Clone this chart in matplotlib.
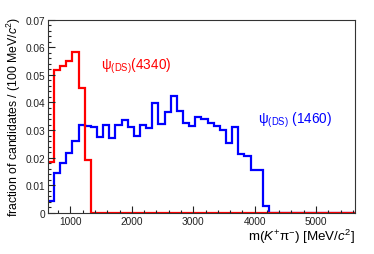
#!/usr/bin/env python3
"""K+pi- mass spectra for the two psi(DS) hypotheses."""

import matplotlib
matplotlib.use("Agg")
import matplotlib.pyplot as plt
import numpy as np
from matplotlib.ticker import MultipleLocator

plt.rcParams["font.family"] = ["Liberation Sans", "DejaVu Sans"]
plt.rcParams["mathtext.fontset"] = "custom"
plt.rcParams["mathtext.rm"] = "Liberation Sans"
plt.rcParams["mathtext.it"] = "Liberation Sans:italic"

# binning: 100 MeV bins from the K pi threshold
M_LOW = 633
BIN_W = 100
N_BINS = 50

# psi(DS)(1460), blue
frac_1460 = [
    0.0045, 0.0145, 0.0180, 0.0217, 0.0260, 0.0320, 0.0315, 0.0310, 0.0275, 0.0320,
    0.0270, 0.0320, 0.0337, 0.0310, 0.0277, 0.0320, 0.0306, 0.0399, 0.0322, 0.0366,
    0.0424, 0.0368, 0.0327, 0.0316, 0.0346, 0.0341, 0.0327, 0.0316, 0.0301, 0.0254,
    0.0311, 0.0213, 0.0207, 0.0155, 0.0155, 0.0026,
]
# psi(DS)(4340), red
frac_4340 = [0.0186, 0.0517, 0.0533, 0.0551, 0.0583, 0.0452, 0.0192]

label_4340 = "ψ$_{\\mathrm{(DS)}}$(4340)"
label_1460 = "ψ$_{\\mathrm{(DS)}}$ (1460)"


def pad(vals, n):
    return np.array(list(vals) + [0.0] * (n - len(vals)))


edges = M_LOW + BIN_W * np.arange(N_BINS + 1)

fig = plt.figure(figsize=(3.74, 2.55), dpi=100)
ax = fig.add_axes([0.128, 0.161, 0.821, 0.758])

ax.stairs(pad(frac_1460, N_BINS), edges, color="#0000ff", lw=1.6, baseline=None)
ax.stairs(pad(frac_4340, N_BINS), edges, color="#ff0000", lw=1.6, baseline=None)

ax.set_xlim(edges[0], edges[-1])
ax.set_ylim(0, 0.07)

ax.xaxis.set_major_locator(MultipleLocator(1000))
ax.xaxis.set_minor_locator(MultipleLocator(200))
ax.yaxis.set_major_locator(MultipleLocator(0.01))
ax.yaxis.set_minor_locator(MultipleLocator(0.002))
ax.yaxis.set_major_formatter(lambda v, p: "0" if abs(v) < 1e-9 else f"{v:.2f}")

ax.tick_params(which="both", direction="in", top=False, right=False,
               labelsize=7.3, width=0.8, colors="#222222")
ax.tick_params(which="major", length=5, pad=2)
ax.tick_params(which="minor", length=2.5)
for s in ax.spines.values():
    s.set_linewidth(0.8)
    s.set_color("#333333")

ax.set_ylabel("fraction of candidates / (100 MeV/$c^{2}$)", fontsize=8.8, labelpad=2)
ax.set_xlabel("m($K^{+}$π$^{-}$) [MeV/$c^{2}$]", fontsize=9.6, loc="right", labelpad=1)

ax.text(1500, 0.0535, label_4340, color="#ff0000", fontsize=9.8, va="center")
ax.text(4060, 0.034, label_1460, color="#0000ff", fontsize=9.8, va="center")

fig.savefig("out.png", dpi=100)
